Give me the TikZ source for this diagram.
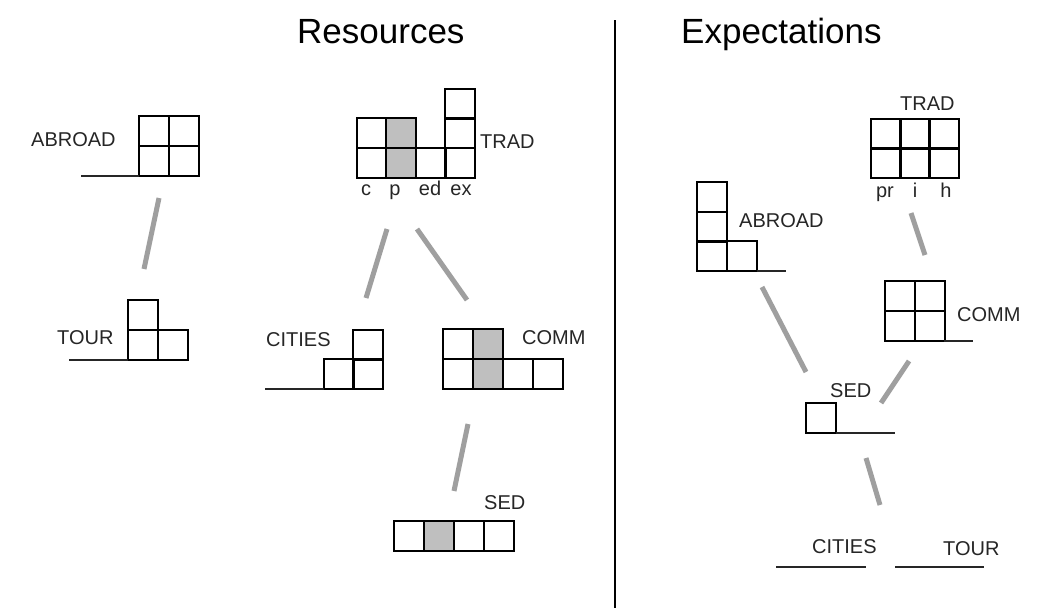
\documentclass[tikz,border=0pt]{standalone}
\usepackage{fontspec}
\setmainfont{Liberation Sans}
\begin{document}
\begin{tikzpicture}[x=1pt,y=-1pt,
  cell/.style={draw=black,line width=1.8pt,line join=miter},
  shaded/.style={cell,fill=gray!50},
  ground/.style={draw=black!85,line width=1.8pt},
  link/.style={draw=gray!75,line width=5pt},
  lbl/.style={anchor=base west,inner sep=0pt,text=black!85,font=\fontsize{20}{24}\selectfont},
  sub/.style={anchor=base,inner sep=0pt,text=black!85,font=\fontsize{20}{24}\selectfont},
  heading/.style={anchor=base west,inner sep=0pt,font=\fontsize{35}{40}\selectfont}]
\newcommand\boxat[3][cell]{\draw[#1] (#2,#3) rectangle ++(30,30);}
\useasboundingbox[fill=white] (0,0) rectangle (1063,608);

% headings and divider
\node[heading] (hres) at (297,43) {Resources};
\node[heading] (hexp) at (681,43) {Expectations};
\coordinate (divtop) at (615,20);
\coordinate (divbot) at (615,608);
\draw[line width=2pt] (divtop) -- (divbot);

% ---------- Resources ----------
% ABROAD
\node[lbl] (rabroad) at (31,146) {ABROAD};
\boxat{139}{116}\boxat{169}{116}\boxat{139}{146}\boxat{169}{146}
\draw[ground] (81,176) -- (139,176);

% TOUR
\node[lbl] (rtour) at (57,344) {TOUR};
\boxat{128}{300}\boxat{128}{330}\boxat{158}{330}
\draw[ground] (69,360) -- (128,360);

% TRAD
\node[lbl] (rtrad) at (480,148) {TRAD};
\boxat{357}{118}\boxat{357}{148}
\boxat[shaded]{386}{118}\boxat[shaded]{386}{148}
\boxat{416}{148}
\boxat{445}{89}\boxat{445}{118}\boxat{445}{148}
\node[sub] (sc)  at (366,195) {c};
\node[sub] (sp)  at (395,195) {p};
\node[sub] (sed) at (430,195) {ed};
\node[sub] (sex) at (461,195) {ex};

% CITIES
\node[lbl] (rcities) at (266,346) {CITIES};
\boxat{353}{330}\boxat{324}{359}\boxat{353}{359}
\draw[ground] (265,389) -- (324,389);

% COMM
\node[lbl] (rcomm) at (522,344) {COMM};
\boxat{443}{329}\boxat{443}{359}
\boxat[shaded]{473}{329}\boxat[shaded]{473}{359}
\boxat{503}{359}\boxat{533}{359}

% SED
\node[lbl] (rsed) at (484,509) {SED};
\boxat{394}{521}\boxat[shaded]{424}{521}\boxat{454}{521}\boxat{484}{521}

% links
\coordinate (ra1) at (159,198); \coordinate (ra2) at (144,269);
\coordinate (rt1) at (387,229); \coordinate (rt2) at (366,298);
\coordinate (rt3) at (417,229); \coordinate (rt4) at (467,300);
\coordinate (rc1) at (468,424); \coordinate (rc2) at (454,491);
\draw[link] (ra1) -- (ra2);
\draw[link] (rt1) -- (rt2);
\draw[link] (rt3) -- (rt4);
\draw[link] (rc1) -- (rc2);

% ---------- Expectations ----------
% TRAD
\node[lbl] (etrad) at (900,110) {TRAD};
\boxat{871}{119}\boxat{900}{119}\boxat{929}{119}
\boxat{871}{148}\boxat{900}{148}\boxat{929}{148}
\node[sub] (epr) at (885,197) {pr};
\node[sub] (ei)  at (915,197) {i};
\node[sub] (eh)  at (946,197) {h};

% ABROAD
\node[lbl] (eabroad) at (739,227) {ABROAD};
\boxat{697}{182}\boxat{697}{212}\boxat{697}{241}\boxat{727}{241}
\draw[ground] (757,271) -- (786,271);

% COMM
\node[lbl] (ecomm) at (957,321) {COMM};
\boxat{885}{281}\boxat{915}{281}\boxat{885}{311}\boxat{915}{311}
\draw[ground] (944,341) -- (973,341);

% SED
\node[lbl] (esed) at (830,397) {SED};
\boxat{806}{403}
\draw[ground] (836,433) -- (895,433);

% CITIES and TOUR
\node[lbl] (ecities) at (812,553) {CITIES};
\draw[ground] (776,567) -- (866,567);
\node[lbl] (etour) at (943,555) {TOUR};
\draw[ground] (895,567) -- (984,567);

% links
\coordinate (et1) at (911,213); \coordinate (et2) at (925,255);
\coordinate (ea1) at (762,287); \coordinate (ea2) at (806,372);
\coordinate (ec1) at (909,361); \coordinate (ec2) at (881,403);
\coordinate (es1) at (866,458); \coordinate (es2) at (880,505);
\draw[link] (et1) -- (et2);
\draw[link] (ea1) -- (ea2);
\draw[link] (ec1) -- (ec2);
\draw[link] (es1) -- (es2);
\end{tikzpicture}
\end{document}
